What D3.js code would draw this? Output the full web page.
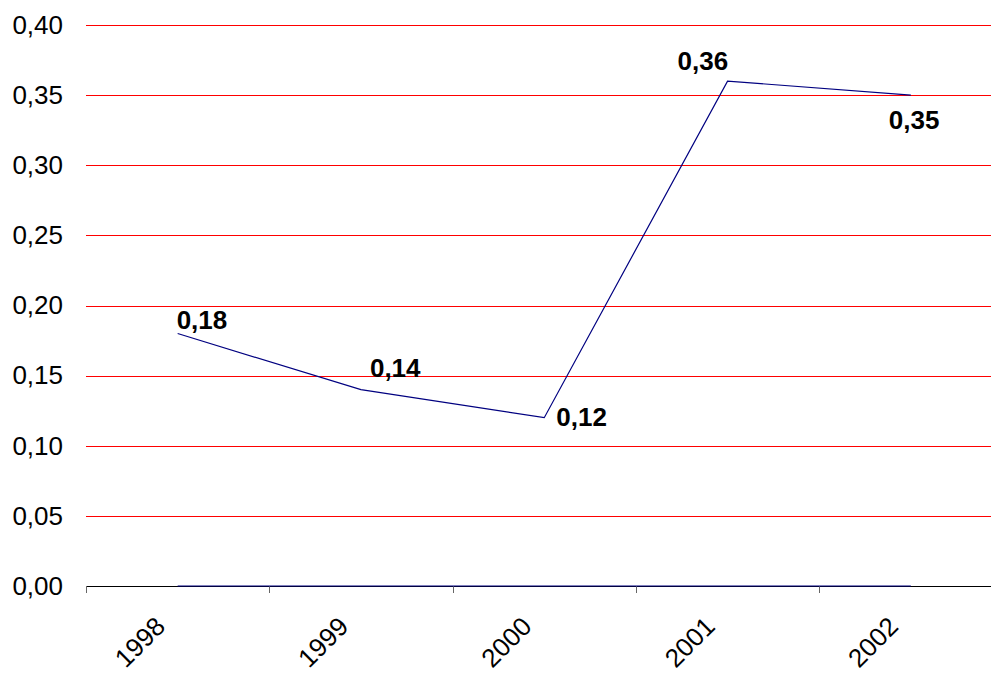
<!DOCTYPE html>
<html><head><meta charset="utf-8">
<script src="https://cdn.jsdelivr.net/npm/d3@7"></script>
<style>body{margin:0;background:#fff}svg{display:block}text{font-family:Arial,"Liberation Sans",sans-serif}</style>
</head><body>
<svg id="c" width="991" height="673"></svg>
<script>
const categories = ["1998","1999","2000","2001","2002"];
const values = [0.18, 0.14, 0.12, 0.36, 0.35];
const zeroSeries = [0, 0, 0, 0, 0];
const valueLabels = ["0,18","0,14","0,12","0,36","0,35"];
const yTicks = [0, 0.05, 0.10, 0.15, 0.20, 0.25, 0.30, 0.35, 0.40];
const labelOffsets = [[-1,-5],[9,-13],[12,8],[-50,-11],[-22,34]];

const svg = d3.select("#c");
const plotLeft = 86, plotRight = 1002.5, plotTop = 25, plotBottom = 586;
const x = d3.scaleBand().domain(categories).range([plotLeft, plotRight]);
const y = d3.scaleLinear().domain([0, 0.40]).range([plotBottom, plotTop]);
const fmt = d => d3.format(".2f")(d).replace(".", ",");

// gridlines
svg.append("g").selectAll("line").data(yTicks.filter(d => d > 0)).join("line")
  .attr("x1", plotLeft).attr("x2", 991)
  .attr("y1", d => Math.round(y(d)) + 0.5).attr("y2", d => Math.round(y(d)) + 0.5)
  .attr("stroke", "#ff0000").attr("stroke-width", 1);

// y labels
const yAxis = d3.axisLeft(y).tickValues(yTicks).tickFormat(fmt).tickSize(0).tickPadding(23);
const gy = svg.append("g").attr("transform", `translate(${plotLeft},0)`).call(yAxis);
gy.select(".domain").remove();
gy.selectAll("text").attr("font-size", 26).attr("fill", "#000")
  .style("font-family", "Arial, 'Liberation Sans', sans-serif");

// x axis
const xTickPos = categories.map(c => x(c));
svg.append("line").attr("x1", plotLeft).attr("x2", 991).attr("y1", plotBottom + 0.5).attr("y2", plotBottom + 0.5)
  .attr("stroke", "#000").attr("stroke-width", 1);
svg.append("g").selectAll("line").data(xTickPos).join("line")
  .attr("x1", d => Math.round(d) + 0.5).attr("x2", d => Math.round(d) + 0.5)
  .attr("y1", plotBottom).attr("y2", plotBottom + 7).attr("stroke", "#666").attr("stroke-width", 1);
svg.append("g").selectAll("text").data(categories).join("text")
  .attr("transform", d => `translate(${x(d) + x.bandwidth()/2 - 11},${plotBottom + 42}) rotate(-45)`)
  .attr("text-anchor", "end").attr("font-size", 26).attr("fill", "#000").text(d => d);

const cx = d => x(d) + x.bandwidth()/2;
const line = d3.line().x((d,i) => cx(categories[i])).y(d => y(d));

svg.append("path").datum(zeroSeries).attr("d", line)
  .attr("fill", "none").attr("stroke", "#000080").attr("stroke-width", 1.2);
svg.append("path").datum(values).attr("d", line)
  .attr("fill", "none").attr("stroke", "#000080").attr("stroke-width", 1.2);

svg.append("g").selectAll("text").data(values).join("text")
  .attr("x", (d,i) => cx(categories[i]) + labelOffsets[i][0])
  .attr("y", (d,i) => y(d) + labelOffsets[i][1])
  .attr("font-size", 26).attr("font-weight", "bold").attr("fill", "#000")
  .text((d,i) => valueLabels[i]);
</script>
</body></html>
